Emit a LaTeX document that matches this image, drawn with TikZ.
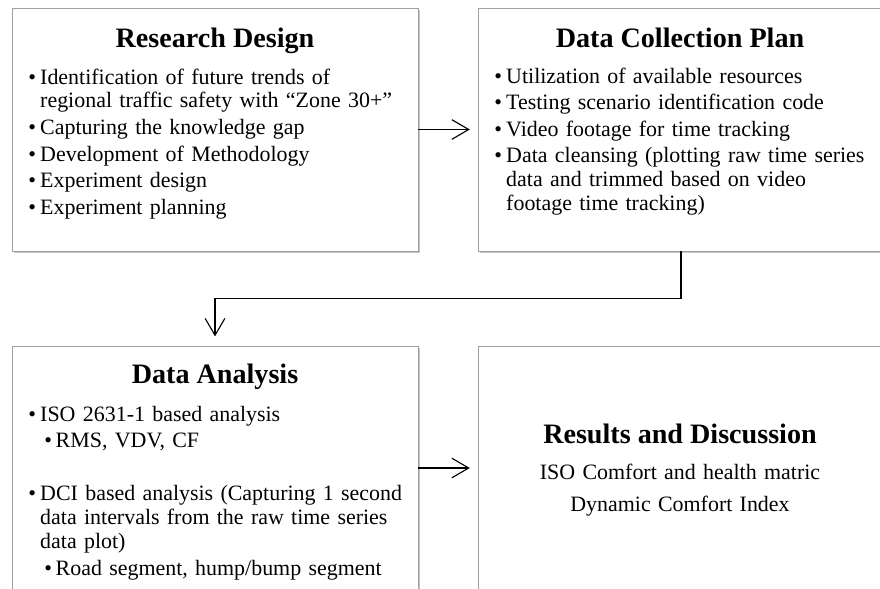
\documentclass[tikz,border=0pt]{standalone}
\usepackage{fontspec}
\setmainfont{Liberation Serif}
\usetikzlibrary{positioning,arrows.meta,shadows}

% bullet lines with hanging indent
\newcommand{\bitem}[1]{\hangindent=8.5pt\hangafter=1\noindent
  \makebox[8.5pt][l]{\textbullet}#1\par}
\newcommand{\bsubitem}[1]{\hangindent=19.5pt\hangafter=1\noindent
  \hspace*{11.5pt}\makebox[8pt][l]{\textbullet}#1\par}

\begin{document}
\begin{tikzpicture}[
  x=0.025cm, y=-0.025cm,
  stageBox/.style={rectangle, draw=gray!75, line width=0.6pt, fill=white,
                   inner sep=0pt, minimum width=10.15cm,
                   drop shadow={shadow xshift=1.3pt, shadow yshift=-1.3pt,
                                opacity=0.45, fill=gray}},
  stageTitle/.style={anchor=base, inner sep=0pt,
                     font=\fontsize{20}{24}\selectfont\bfseries},
  stageList/.style={anchor=base west, inner sep=0pt, text width=285pt,
                    font=\fontsize{15.6}{17}\selectfont,
                    execute at begin node={\setlength\parskip{1.9pt}}},
  flow/.style={-{Straight Barb[length=12pt, width=14pt]}, line width=0.8pt,
               shorten >=5.5pt},
  >=Stealth
]
  \useasboundingbox (0,0) rectangle (880,588);
  \clip (0,0) rectangle (880,588);

  % === Research Design ===
  \node[stageBox, minimum height=6.075cm] (rd) at (215,129.5) {};
  \node[stageTitle] (rdTitle) at (215,47) {Research Design};
  \node[stageList] (rdList) at (28,84) {%
    \bitem{Identification of future trends of\newline
           regional traffic safety with “Zone 30+”}%
    \bitem{Capturing the knowledge gap}%
    \bitem{Development of Methodology}%
    \bitem{Experiment design}%
    \bitem{Experiment planning}};

  % === Data Collection Plan ===
  \node[stageBox, minimum height=6.075cm] (dcp) at (681,129.5) {};
  \node[stageTitle] (dcpTitle) at (680,47) {Data Collection Plan};
  \node[stageList] (dcpList) at (494,83) {%
    \bitem{Utilization of available resources}%
    \bitem{Testing scenario identification code}%
    \bitem{Video footage for time tracking}%
    \bitem{Data cleansing (plotting raw time series\newline
           data and trimmed based on video\newline
           footage time tracking)}};

  % === Data Analysis ===
  \node[stageBox, minimum height=6.1cm] (da) at (215,468) {};
  \node[stageTitle] (daTitle) at (215,383) {Data Analysis};
  \node[stageList] (daList) at (28,421) {%
    \bitem{ISO 2631-1 based analysis}%
    \bsubitem{RMS, VDV, CF}%
    \mbox{}\par
    \bitem{DCI based analysis (Capturing 1 second\newline
           data intervals from the raw time series\newline
           data plot)}%
    \bsubitem{Road segment, hump/bump segment}};

  % === Results and Discussion ===
  \node[stageBox, minimum height=6.1cm] (res) at (681,468) {};
  \node[stageTitle] (resTitle) at (680,443) {Results and Discussion};
  \node[anchor=base, inner sep=0pt, text width=280pt, align=center,
        font=\fontsize{15.6}{22.8}\selectfont] (resText) at (680,479)
    {ISO Comfort and health matric\\ Dynamic Comfort Index};

  % connectors
  \draw[flow] (rd) -- (dcp);
  \draw[flow, shorten >=6.5pt] (dcp.south) -- ++(0,47) -| (da.north);
  \draw[flow] (da) -- (res);
\end{tikzpicture}
\end{document}
